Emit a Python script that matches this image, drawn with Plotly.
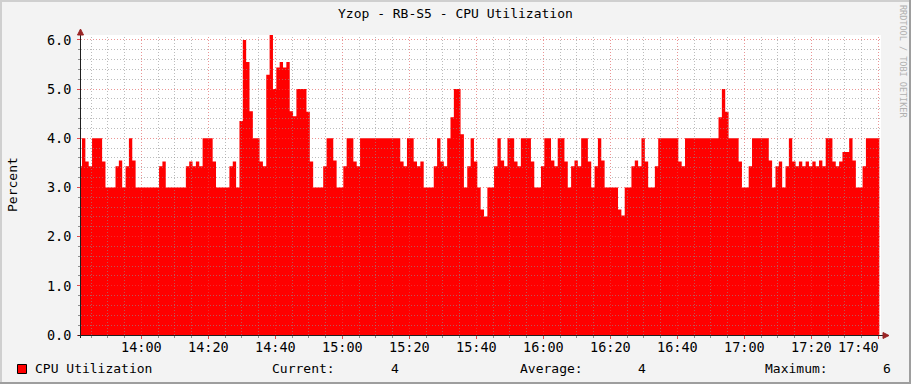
import math
import plotly.graph_objects as go
import pandas as pd

# ---------------- data ----------------
title_text = "Yzop - RB-S5 - CPU Utilization"
y_title = "Percent"
series_name = "CPU Utilization"
credit_text = "RRDTOOL / TOBI OETIKER"

first_sample = "2024-01-01 13:41:18"   # one sample per minute
view_start = "2024-01-01 13:42:00"
view_end = "2024-01-01 17:40:48"

cpu_values = [
    3.43, 4.0, 3.53, 3.43, 4.0, 4.0, 4.0, 3.53, 3.0, 3.0,
    3.0, 3.43, 3.55, 3.0, 3.43, 4.0, 3.55, 3.0, 3.0, 3.0,
    3.0, 3.0, 3.0, 3.0, 3.43, 3.53, 3.0, 3.0, 3.0, 3.0,
    3.0, 3.0, 3.43, 3.53, 3.43, 3.53, 3.43, 4.0, 4.0, 4.0,
    3.53, 3.0, 3.0, 3.0, 3.0, 3.43, 3.53, 3.0, 4.35, 6.0,
    5.55, 4.55, 4.0, 4.0, 3.53, 3.43, 5.29, 6.1, 5.0, 5.44,
    5.55, 5.44, 5.55, 4.55, 4.45, 5.0, 5.0, 5.0, 4.54, 3.53,
    3.0, 3.0, 3.0, 3.43, 4.0, 4.0, 3.55, 3.0, 3.0, 3.43,
    4.0, 4.0, 3.53, 3.43, 4.0, 4.0, 4.0, 4.0, 4.0, 4.0,
    4.0, 4.0, 4.0, 4.0, 4.0, 4.0, 3.53, 3.43, 4.0, 4.0,
    3.53, 3.43, 3.53, 3.0, 3.0, 3.0, 3.43, 4.0, 3.53, 3.43,
    4.0, 4.43, 5.0, 5.0, 4.08, 3.0, 3.43, 4.0, 3.53, 3.0,
    2.55, 2.41, 3.0, 3.0, 3.43, 4.0, 3.55, 3.43, 4.0, 4.0,
    3.53, 3.43, 4.0, 4.0, 4.0, 3.53, 3.0, 3.0, 3.43, 4.0,
    4.0, 3.55, 3.43, 4.0, 4.0, 3.53, 3.0, 3.43, 3.55, 3.43,
    4.0, 4.0, 3.53, 3.0, 3.43, 4.0, 3.55, 3.0, 3.0, 3.0,
    3.0, 2.55, 2.43, 3.0, 3.0, 3.43, 3.55, 3.43, 4.0, 3.53,
    3.0, 3.0, 3.43, 4.0, 4.0, 4.0, 4.0, 4.0, 4.0, 3.53,
    3.43, 4.0, 4.0, 4.0, 4.0, 4.0, 4.0, 4.0, 4.0, 4.0,
    4.0, 4.43, 5.0, 4.54, 4.0, 4.0, 4.0, 3.53, 3.0, 3.0,
    3.43, 4.0, 4.0, 4.0, 4.0, 4.0, 3.55, 3.0, 3.43, 3.53,
    3.0, 3.43, 4.0, 3.53, 3.43, 3.53, 3.43, 3.53, 3.43, 3.53,
    3.43, 3.55, 3.43, 4.0, 4.0, 3.53, 3.43, 3.53, 3.72, 3.72,
    4.0, 3.55, 3.0, 3.0, 3.43, 4.0, 4.0, 4.0, 4.0, 4.0,
]

x_tick_labels = ["14:00", "14:20", "14:40", "15:00", "15:20", "15:40",
                 "16:00", "16:20", "16:40", "17:00", "17:20", "17:40"]
y_tick_values = [0, 1, 2, 3, 4, 5, 6]
y_range = [0, 6.1]
legend_stats = [("Current:", "4"), ("Average:", "4"), ("Maximum:", "6")]

# ---------------- styling / layout ----------------
W, H = 911, 384
L, R, T, B = 81, 30, 35, 49
PW, PH = W - L - R, H - T - B
BACK = "#F3F3F3"
SHADEA = "#CFCFCF"
SHADEB = "#9E9E9E"
GRID = "rgba(143,143,143,0.60)"
MGRID = "rgba(222,79,79,0.60)"
AXIS = "#1F1F1F"
ARROW = "#9A2525"
FONT = "DejaVu Sans Mono"


def px(xp):
    return (xp - L) / PW


def py(yp):
    return (H - B - yp) / PH


def snap(v):
    return math.floor(v) + 0.5


times = pd.date_range(first_sample, periods=len(cpu_values), freq="60s")

fig = go.Figure()
fig.add_trace(go.Scatter(
    x=times, y=cpu_values, mode="lines",
    line=dict(shape="hv", width=0, color="#FF0000"),
    fill="tozeroy", fillcolor="#FF0000",
    name=series_name, showlegend=False, hoverinfo="skip",
))

shapes = []
vs, ve = pd.Timestamp(view_start), pd.Timestamp(view_end)
span = (ve - vs).total_seconds()
# vertical grid (every 5 min minor, every 20 min major), snapped to pixel centres
t = vs.ceil("5min")
while t <= ve:
    major = (t.minute % 20 == 0)
    xpix = snap(L + (t - vs).total_seconds() / span * PW)
    shapes.append(dict(type="line", xref="paper", yref="paper", x0=px(xpix), x1=px(xpix), y0=0, y1=1,
                       line=dict(color=MGRID if major else GRID, width=1, dash="1px,2px"),
                       layer="above"))
    t += pd.Timedelta(minutes=5)
# horizontal grid (0.2 minor, 1.0 major)
k = 1
while k * 0.2 <= y_range[1] + 1e-9:
    yv = round(k * 0.2, 2)
    major = (k % 5 == 0)
    ypix = snap(T + PH * (1 - (yv - y_range[0]) / (y_range[1] - y_range[0])))
    shapes.append(dict(type="line", xref="paper", yref="paper", x0=0, x1=1, y0=py(ypix), y1=py(ypix),
                       line=dict(color=MGRID if major else GRID, width=1, dash="1px,2px"),
                       layer="above"))
    k += 1

# axis lines and arrows
shapes.append(dict(type="line", xref="paper", yref="paper", x0=px(80.5), x1=px(80.5),
                   y0=py(338), y1=py(31), line=dict(color=AXIS, width=1), layer="above"))
shapes.append(dict(type="line", xref="paper", yref="paper", x0=px(78), x1=px(886),
                   y0=py(335.5), y1=py(335.5), line=dict(color=AXIS, width=1), layer="above"))
shapes.append(dict(type="path", xref="paper", yref="paper",
                   path=f"M {px(77.5)},{py(35)} L {px(83.5)},{py(35)} L {px(80.5)},{py(29)} Z",
                   fillcolor=ARROW, line=dict(color=ARROW, width=1), layer="above"))
shapes.append(dict(type="path", xref="paper", yref="paper",
                   path=f"M {px(883)},{py(332.5)} L {px(883)},{py(338.5)} L {px(889)},{py(335.5)} Z",
                   fillcolor=ARROW, line=dict(color=ARROW, width=1), layer="above"))

# image border (3D shade)
shapes.append(dict(type="rect", xref="paper", yref="paper", x0=px(0), x1=px(W), y0=py(0), y1=py(2),
                   fillcolor=SHADEA, line=dict(width=0), layer="below"))
shapes.append(dict(type="rect", xref="paper", yref="paper", x0=px(0), x1=px(2), y0=py(0), y1=py(H),
                   fillcolor=SHADEA, line=dict(width=0), layer="below"))
shapes.append(dict(type="rect", xref="paper", yref="paper", x0=px(W - 2), x1=px(W), y0=py(0), y1=py(H),
                   fillcolor=SHADEB, line=dict(width=0), layer="below"))
shapes.append(dict(type="rect", xref="paper", yref="paper", x0=px(0), x1=px(W), y0=py(H - 2), y1=py(H),
                   fillcolor=SHADEB, line=dict(width=0), layer="below"))

# legend swatch
shapes.append(dict(type="rect", xref="paper", yref="paper", x0=px(17.5), x1=px(26.5), y0=py(364.5), y1=py(373.5),
                   fillcolor="#FF0000", line=dict(color="#000000", width=1), layer="above"))

annotations = []
annotations.append(dict(text=title_text, xref="paper", yref="paper", x=px(455.5), y=py(14),
                        xanchor="center", yanchor="middle", showarrow=False,
                        font=dict(family=FONT, size=13, color="#000000")))
annotations.append(dict(text=y_title, xref="paper", yref="paper", x=px(12), y=py(185),
                        xanchor="center", yanchor="middle", textangle=-90, showarrow=False,
                        font=dict(family=FONT, size=13, color="#000000")))
annotations.append(dict(text=credit_text, xref="paper", yref="paper", x=px(903), y=py(61),
                        xanchor="center", yanchor="middle", textangle=90, showarrow=False,
                        font=dict(family=FONT, size=8.5, color="#B0B0B0")))

# x tick labels
base_day = vs.normalize()
for i, lab in enumerate(x_tick_labels):
    hh, mm = lab.split(":")
    tt = base_day + pd.Timedelta(hours=int(hh), minutes=int(mm))
    if i == len(x_tick_labels) - 1 and tt + pd.Timedelta(minutes=6) > ve:
        annotations.append(dict(text=lab, xref="paper", yref="paper", x=px(881), y=py(347),
                                xanchor="right", yanchor="middle", showarrow=False,
                                font=dict(family=FONT, size=13.5, color="#000000")))
    else:
        annotations.append(dict(text=lab, xref="x", yref="paper", x=tt, y=py(347),
                                xanchor="center", yanchor="middle", showarrow=False,
                                font=dict(family=FONT, size=13.5, color="#000000")))

# legend text
annotations.append(dict(text=series_name, xref="paper", yref="paper", x=px(33), y=py(368),
                        xanchor="left", yanchor="middle", showarrow=False,
                        font=dict(family=FONT, size=13, color="#000000")))
stat_label_x = [270, 518, 763]
stat_value_x = [401, 648, 893]
for (lab, val), lx, vx in zip(legend_stats, stat_label_x, stat_value_x):
    annotations.append(dict(text=lab, xref="paper", yref="paper", x=px(lx), y=py(368),
                            xanchor="left", yanchor="middle", showarrow=False,
                            font=dict(family=FONT, size=13, color="#000000")))
    annotations.append(dict(text=val, xref="paper", yref="paper", x=px(vx), y=py(368),
                            xanchor="right", yanchor="middle", showarrow=False,
                            font=dict(family=FONT, size=13, color="#000000")))

fig.update_layout(
    width=W, height=H, autosize=False,
    margin=dict(l=L, r=R, t=T, b=B, pad=0),
    paper_bgcolor=BACK, plot_bgcolor="#FFFFFF",
    showlegend=False,
    shapes=shapes, annotations=annotations,
    xaxis=dict(type="date", range=[view_start, view_end], showgrid=False, zeroline=False,
               showticklabels=False, showline=False,
               tick0="2024-01-01 14:00:00", dtick=20 * 60 * 1000,
               ticks="outside", ticklen=3, tickcolor="#DE4F4F", tickwidth=1,
               minor=dict(dtick=5 * 60 * 1000, ticks="outside", ticklen=2, tickcolor="#8F8F8F",
                          showgrid=False),
               fixedrange=True),
    yaxis=dict(range=y_range, showgrid=False, zeroline=False, showline=False,
               tickvals=y_tick_values, tickformat=".1f",
               ticks="outside", ticklen=3, tickcolor="#DE4F4F", tickwidth=1,
               ticklabelstandoff=3,
               minor=dict(dtick=0.2, ticks="outside", ticklen=2, tickcolor="#8F8F8F", showgrid=False),
               tickfont=dict(family=FONT, size=13.5, color="#000000"),
               fixedrange=True),
)

fig.write_html("out.html")
